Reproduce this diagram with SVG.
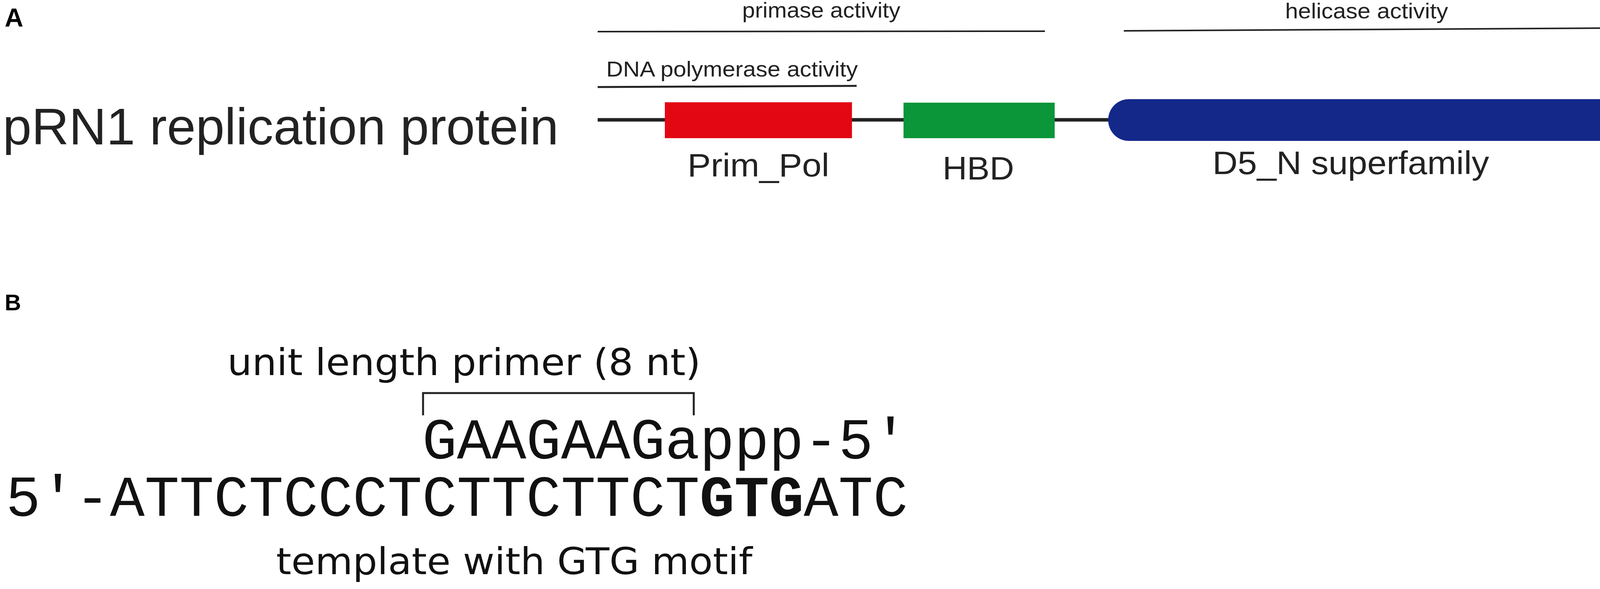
<svg xmlns="http://www.w3.org/2000/svg" width="4562" height="1509" viewBox="0 0 4562 1509">
<style>
.s{font-family:"Liberation Sans",Arial,sans-serif;fill:#222}
.v{font-family:"DejaVu Sans",Verdana,sans-serif;fill:#111}
.m{font-family:"Liberation Mono","DejaVu Sans Mono","Courier New",monospace;fill:#111;font-size:148px}
.ln{stroke:#222;fill:none}
</style>
<rect width="4562" height="1509" fill="#fff"/>
<text x="12" y="68" class="s" style="font-weight:bold;fill:#000" font-size="66">A</text>
<text x="12" y="795" class="s" style="font-weight:bold;fill:#000" font-size="58">B</text>
<g id="connectors">
<line class="ln" x1="1530" y1="307" x2="4392" y2="307" stroke-width="9"/>
<line class="ln" x1="1530" y1="81" x2="2675" y2="80" stroke-width="4" stroke="#555"/>
<line class="ln" x1="1530" y1="223" x2="2193" y2="220" stroke-width="5"/>
<line class="ln" x1="2877" y1="79" x2="4284" y2="71" stroke-width="4" stroke="#555"/>
<path class="ln" d="M1083 1064V1007H1776V1064" stroke-width="5"/>
</g>
<g id="title"><text x="7" y="370" class="s" font-size="132" textLength="1423" lengthAdjust="spacingAndGlyphs">pRN1 replication protein</text></g>
<g id="primase"><text x="1900" y="45" class="s" font-size="56" textLength="405" lengthAdjust="spacingAndGlyphs">primase activity</text></g>
<g id="dnapol"><text x="1552" y="196" class="s" font-size="56" textLength="644" lengthAdjust="spacingAndGlyphs">DNA polymerase activity</text></g>
<g id="helicase"><text x="3290" y="47" class="s" font-size="56" textLength="417" lengthAdjust="spacingAndGlyphs">helicase activity</text></g>
<g id="primpol"><rect x="1702" y="262" width="479" height="92" fill="#e30613"/>
<text x="1760" y="452" class="s" font-size="84" textLength="363" lengthAdjust="spacingAndGlyphs">Prim_Pol</text></g>
<g id="hbd"><rect x="2313" y="263" width="387" height="91" fill="#0a9639"/>
<text x="2413" y="460" class="s" font-size="84" textLength="183" lengthAdjust="spacingAndGlyphs">HBD</text></g>
<g id="d5n"><rect x="2837" y="254" width="1313" height="107" rx="53" fill="#14288a"/>
<text x="3104" y="446" class="s" font-size="84" textLength="708" lengthAdjust="spacingAndGlyphs">D5_N superfamily</text></g>
<g id="len"><text x="4425" y="330" class="s" font-size="68" textLength="115" lengthAdjust="spacingAndGlyphs">904</text></g>
<g id="primer"><text x="582" y="961" class="v" font-size="95" textLength="1212" lengthAdjust="spacingAndGlyphs">unit length primer (8 nt)</text>
<text x="1081" y="1175" class="m" textLength="1243" lengthAdjust="spacingAndGlyphs">GAAGAAGappp-5′</text></g>
<g id="template"><text x="15" y="1322" class="m" textLength="2309" lengthAdjust="spacingAndGlyphs">5′-ATTCTCCCTCTTCTTCT<tspan font-weight="bold">GTG</tspan>ATC</text>
<text x="707" y="1471" class="v" font-size="95" textLength="1219" lengthAdjust="spacingAndGlyphs">template with GTG motif</text></g>
</svg>
